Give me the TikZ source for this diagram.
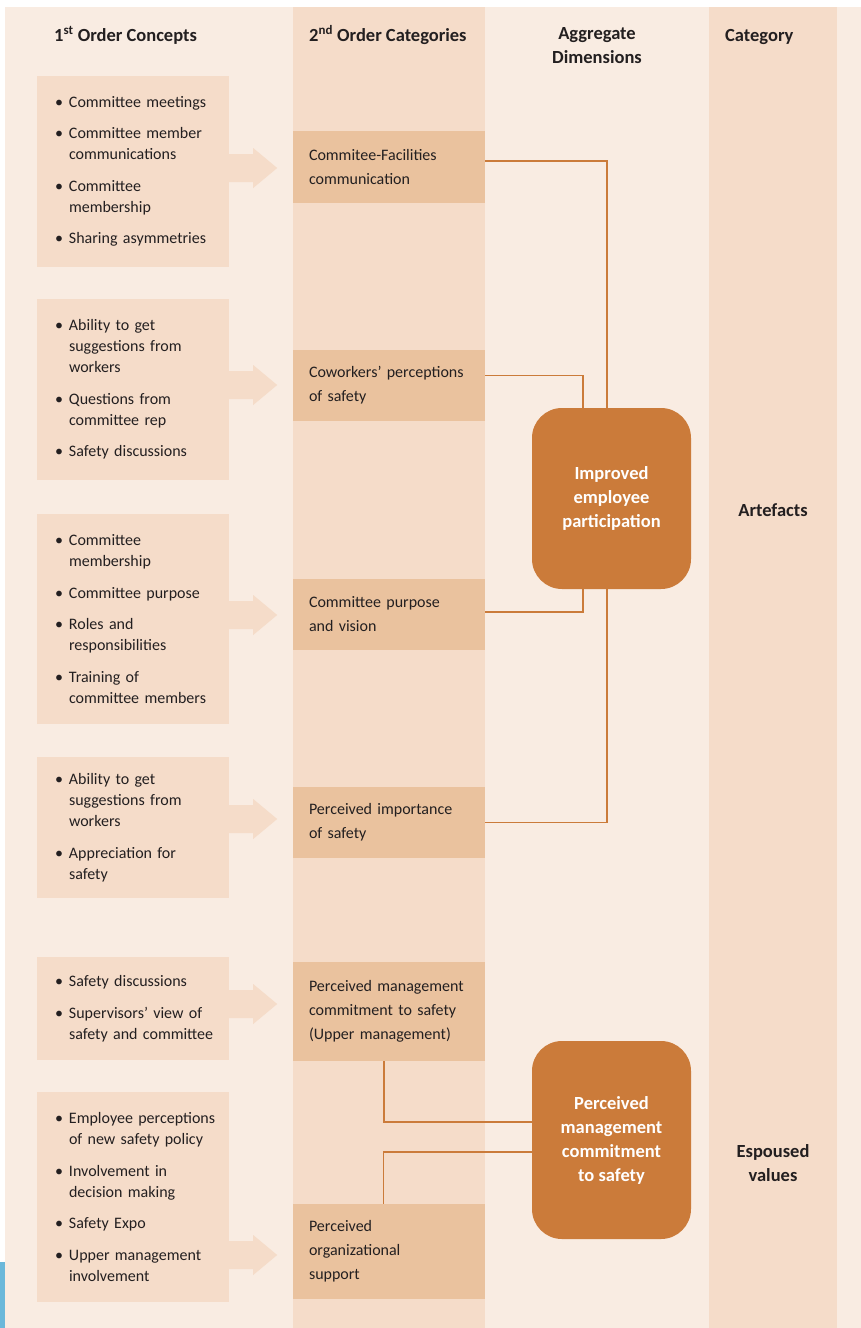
\documentclass[tikz,border=0pt]{standalone}
\usepackage{fontspec}
\setmainfont{Carlito}
\definecolor{bgc}{HTML}{F9ECE2}
\definecolor{colc}{HTML}{F5DCC9}
\definecolor{secc}{HTML}{EAC29E}
\definecolor{orc}{HTML}{CB7B3A}
\definecolor{txc}{HTML}{231F20}
\definecolor{bluec}{HTML}{6BB8DA}
\newcommand\bitem[1]{\hyphenpenalty=10000 \leftskip=9pt\hangindent=14pt\hangafter=1\noindent\makebox[14pt][l]{\textbullet}#1\par}
\newcommand\isep{\vspace{10.5pt}}
\tikzset{
  fobox/.style={fill=colc, inner xsep=9pt, inner ysep=0pt, minimum width=192pt, text width=174pt, align=left, text=txc, font=\fontsize{16}{21}\selectfont},
  sobox/.style={fill=secc, inner xsep=16pt, inner ysep=0pt, minimum width=192pt, text width=160pt, align=left, text=txc, font=\fontsize{16}{24}\selectfont},
  orbox/.style={fill=orc, rounded corners=30pt, minimum width=159pt, align=center, text=white, font=\fontsize{18.5}{24}\selectfont\bfseries},
  hdr/.style={text=txc, font=\fontsize{18.5}{24}\selectfont\bfseries, inner sep=0pt},
  conn/.style={draw=orc, line width=1.3pt},
  arrowfill/.style={fill=colc}
}
\newcommand\blockarrow[2]{%
  \fill[arrowfill] (#1.east |- 0,#2) ++(0,-14) -- ++(24,0) -- ++(0,-6) -- ++(24,20) -- ++(-24,20) -- ++(0,-6) -- ++(-24,0) -- cycle;}
\begin{document}
\begin{tikzpicture}[x=1pt,y=-1pt]
\useasboundingbox (0,0) rectangle (861,1328);
\fill[white] (0,0) rectangle (861,1328);
\fill[bgc] (5,7) rectangle (861,1328);
\fill[bluec] (0,1262) rectangle (5,1328);
% columns
\fill[colc] (293,7) rectangle (485,1328);
\fill[colc] (709,7) rectangle (837,1328);
% headers
\node[hdr, anchor=base west] (h1) at (54,41) {1\textsuperscript{st} Order Concepts};
\node[hdr, anchor=base west] (h2) at (309,41) {2\textsuperscript{nd} Order Categories};
\node[hdr, align=center] (h3) at (597,46) {Aggregate\\Dimensions};
\node[hdr, anchor=base west] (h4) at (725,41) {Category};
\node[hdr] (c1) at (773,510) {Artefacts};
\node[hdr, align=center] (c2) at (773,1163) {Espoused\\values};
% first order
\node[fobox, minimum height=191pt] (f1) at (133,171.5) {\bitem{Committee meetings}\isep\bitem{Committee member\newline communications}\isep\bitem{Committee\newline membership}\isep\bitem{Sharing asymmetries}};
\node[fobox, minimum height=181pt] (f2) at (133,389.5) {\bitem{Ability to get\newline suggestions from\newline workers}\isep\bitem{Questions from\newline committee rep}\isep\bitem{Safety discussions}};
\node[fobox, minimum height=210pt] (f3) at (133,619) {\bitem{Committee\newline membership}\isep\bitem{Committee purpose}\isep\bitem{Roles and\newline responsibilities}\isep\bitem{Training of\newline committee members}};
\node[fobox, minimum height=141pt] (f4) at (133,827.5) {\bitem{Ability to get\newline suggestions from\newline workers}\isep\bitem{Appreciation for\newline safety}};
\node[fobox, minimum height=103pt] (f5) at (133,1008.5) {\bitem{Safety discussions}\isep\bitem{Supervisors’ view of\newline safety and committee}};
\node[fobox, minimum height=210pt] (f6) at (133,1197) {\bitem{Employee perceptions\newline of new safety policy}\isep\bitem{Involvement in\newline decision making}\isep\bitem{Safety Expo}\isep\bitem{Upper management\newline involvement}};
% arrows
\blockarrow{f1}{168}
\blockarrow{f2}{385}
\blockarrow{f3}{615}
\blockarrow{f4}{819}
\blockarrow{f5}{1004}
\blockarrow{f6}{1255}
% second order
\node[sobox, minimum height=72pt] (s1) at (389,167) {Commitee-Facilities\\communication};
\node[sobox, minimum height=71pt] (s2) at (389,385.5) {Coworkers’ perceptions\\of safety};
\node[sobox, minimum height=71pt] (s3) at (389,614.5) {Committee purpose\\and vision};
\node[sobox, minimum height=71pt] (s4) at (389,822.5) {Perceived importance\\of safety};
\node[sobox, minimum height=99pt] (s5) at (389,1011.5) {Perceived management\\commitment to safety\\(Upper management)};
\node[sobox, minimum height=95pt] (s6) at (389,1251.5) {Perceived\\organizational\\support};
% aggregate
\node[orbox, minimum height=181pt] (o1) at (611.5,498.5) {Improved\\employee\\participation};
\node[orbox, minimum height=198pt] (o2) at (611.5,1140) {Perceived\\management\\commitment\\to safety};
% connectors
\draw[conn] ([yshift=6pt]s1.east) -| ([xshift=-4.5pt]o1.north);
\draw[conn] ([yshift=10pt]s2.east) -| ([xshift=-28.5pt]o1.north);
\draw[conn] ([yshift=2.5pt]s3.east) -| ([xshift=-28.5pt]o1.south);
\draw[conn] (s4.east) -| ([xshift=-4.5pt]o1.south);
\draw[conn] ([xshift=-5pt]s5.south) |- ([yshift=18pt]o2.west);
\draw[conn] ([xshift=-5.5pt]s6.north) |- ([yshift=-12pt]o2.west);
\end{tikzpicture}
\end{document}
